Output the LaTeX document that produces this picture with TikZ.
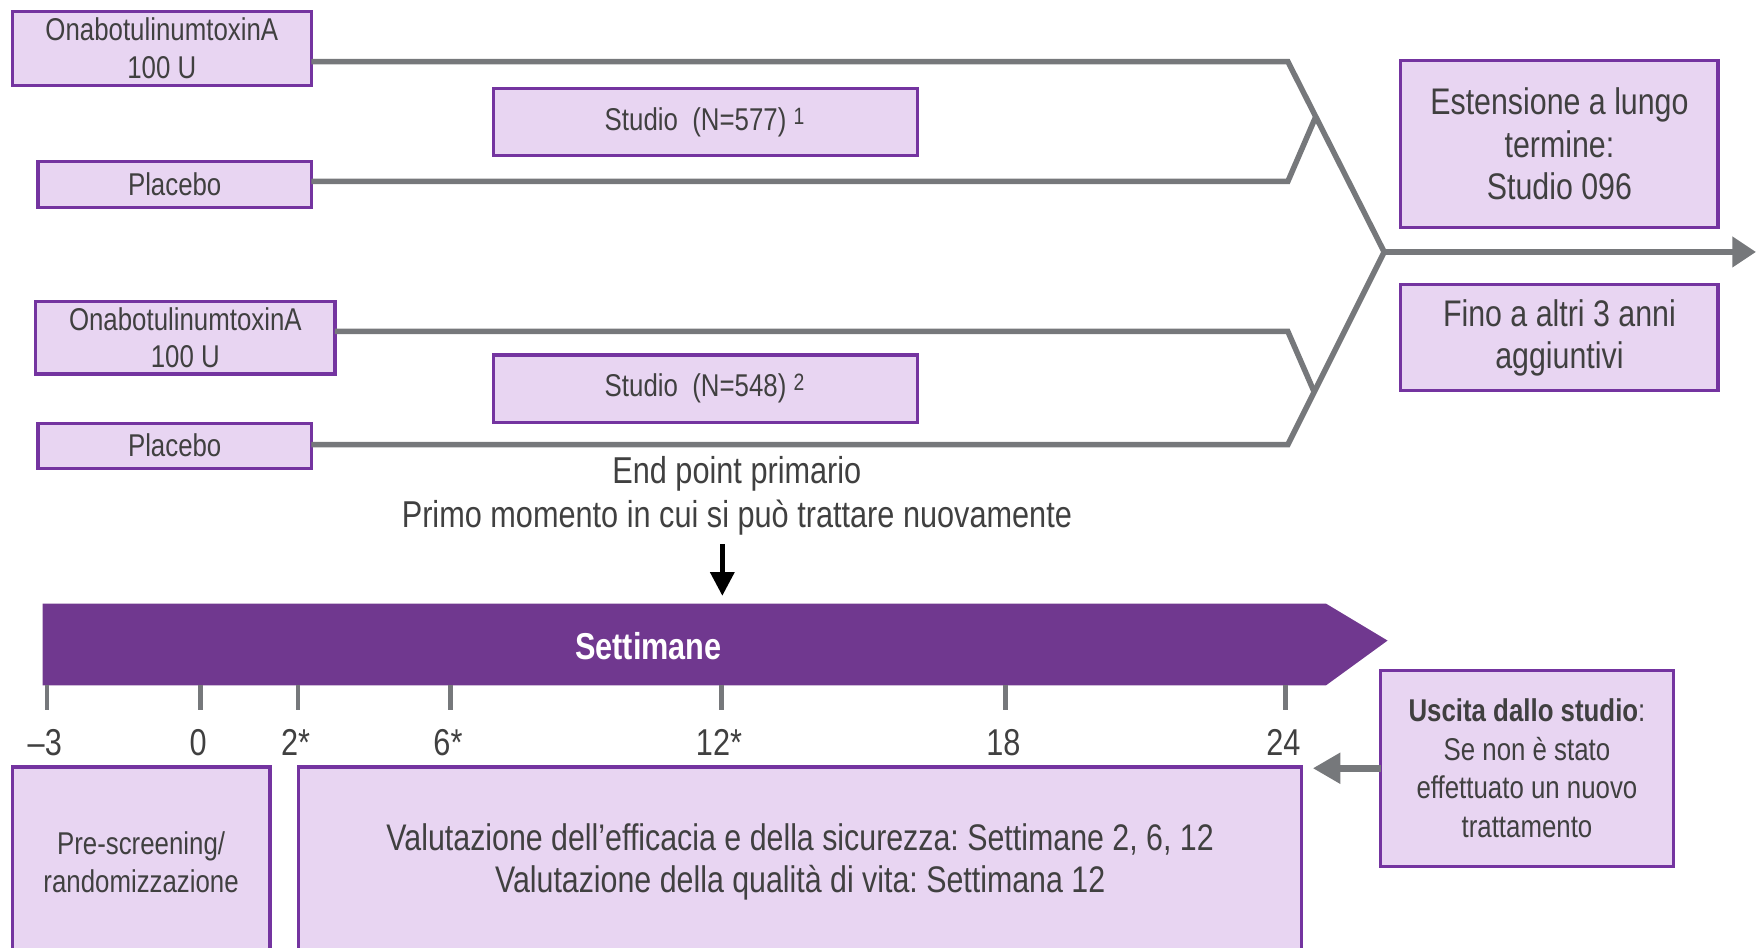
\documentclass[tikz,border=0pt]{standalone}
\usepackage{fontspec}
\setmainfont{Liberation Sans}[FakeStretch=0.82]
\usepackage{tikz}
\usetikzlibrary{arrows.meta}
\definecolor{boxfill}{HTML}{E8D5F2}
\definecolor{boxline}{HTML}{7434A0}
\definecolor{barfill}{HTML}{70388F}
\definecolor{greyline}{HTML}{76787B}
\definecolor{txtgrey}{HTML}{404040}
\newcommand{\fsmall}{\fontsize{8}{9.5}\selectfont}
\newcommand{\fbig}{\fontsize{9.4}{10.7}\selectfont}
\frenchspacing

\begin{document}
\begin{tikzpicture}[x=0.01cm, y=-0.01cm,
                    armbox/.style={draw=boxline, fill=boxfill, line width=0.8pt, inner sep=0pt, outer sep=0pt, align=center, text=txtgrey, font=\fsmall},
                    bigbox/.style={armbox, font=\fbig},
                    trial/.style={draw=greyline, line width=1.4pt, line join=miter},
                    tickline/.style={draw=greyline, line width=1.2pt},
                    ticklab/.style={text=txtgrey, font=\fontsize{9.5}{11}\selectfont}]
                    \useasboundingbox (0,0) rectangle (1568,846);
                    \clip (0,0) rectangle (1568,846);

                    \node[armbox, minimum width=2.67cm, minimum height=0.66cm] (a1) at (144.5,43) {OnabotulinumtoxinA\\100 U};
                    \node[armbox, minimum width=2.44cm, minimum height=0.41cm] (pl1) at (156,164.5) {Placebo};
                    \node[armbox, minimum width=3.78cm, minimum height=0.60cm] (st1) at (630,109) {Studio\ \ (N=577) \raisebox{-0.3ex}{\textsuperscript{1}}};
                    \node[armbox, minimum width=2.67cm, minimum height=0.65cm] (a2) at (165.5,301.5) {OnabotulinumtoxinA\\100 U};
                    \node[armbox, minimum width=3.78cm, minimum height=0.60cm] (st2) at (630,347) {Studio\ \ (N=548) \raisebox{-0.3ex}{\textsuperscript{2}}};
                    \node[armbox, minimum width=2.44cm, minimum height=0.40cm] (pl2) at (156,398) {Placebo};
                    \node[bigbox, minimum width=2.83cm, minimum height=1.49cm] (ext) at (1392.5,128.5) {Estensione a lungo\\termine:\\Studio 096};
                    \node[bigbox, minimum width=2.83cm, minimum height=0.95cm] (fino) at (1392.5,301.5) {Fino a altri 3 anni\\aggiuntivi};

                    \coordinate (k1) at (1150,55);
                    \coordinate (k2) at (1150,162);
                    \coordinate (j1) at (1175,104);
                    \coordinate (k3) at (1150,296);
                    \coordinate (k4) at (1150,397);
                    \coordinate (j2) at (1173.5,350);
                    \coordinate (apex) at (1236,225);
                    \coordinate (out) at (1568,225);
                    \draw[trial] (a1.east |- k1) -- (k1) -- (apex) -- (k4) -- (pl2.east |- k4);
                    \draw[trial] (pl1.east |- k2) -- (k2) -- (j1);
                    \draw[trial] (a2.east |- k3) -- (k3) -- (j2);
                    \draw[trial, -{Triangle[length=6pt,width=7.5pt]}] (apex) -- (out);

                    \node[text=txtgrey, align=center, inner sep=0pt, font=\fontsize{9.5}{11.1}\selectfont] (endpt) at (658,443) {End point primario\\Primo momento in cui si può trattare nuovamente};
                    \coordinate (ep) at (645,532);
                    \draw[line width=1.1pt, shorten <=0.07cm, -{Triangle[length=6pt,width=6pt]}] (endpt.south -| ep) -- (ep);

                    \fill[barfill] (38,539) -- (1184,539) -- (1239,572) -- (1184,612) -- (38,612) -- cycle;
                    \node[text=white, font=\bfseries\fontsize{9.5}{11}\selectfont] (sett) at (579,577) {Settimane};

                    \foreach \tx/\tl [count=\i] in {42/{--3},179/0,266/2*,402/6*,644/12*,898/18,1148/24}{
                        \draw[tickline] (\tx,612) -- (\tx,634);
                        \node[ticklab] (tick\i) at (\tx-2,663) {\tl};
                    }

                    \node[armbox, minimum width=2.30cm, minimum height=1.70cm] (pre) at (126,770) {Pre-screening/\\randomizzazione};
                    \node[bigbox, minimum width=8.95cm, minimum height=1.70cm] (valut) at (714.5,770) {Valutazione dell’efficacia e della sicurezza: Settimane 2, 6, 12\\Valutazione della qualità di vita: Settimana 12};
                    \node[armbox, minimum width=2.61cm, minimum height=1.75cm, font=\fontsize{8}{9.8}\selectfont] (exit) at (1363.5,686) {\textbf{Uscita dallo studio}:\\Se non è stato\\effettuato un nuovo\\trattamento};
                    \draw[trial, line width=1.7pt, shorten >=0.1cm, -{Triangle[length=7pt,width=7.5pt]}] (exit.west) -- (exit.west -| valut.east);
                \end{tikzpicture}
\end{document}
